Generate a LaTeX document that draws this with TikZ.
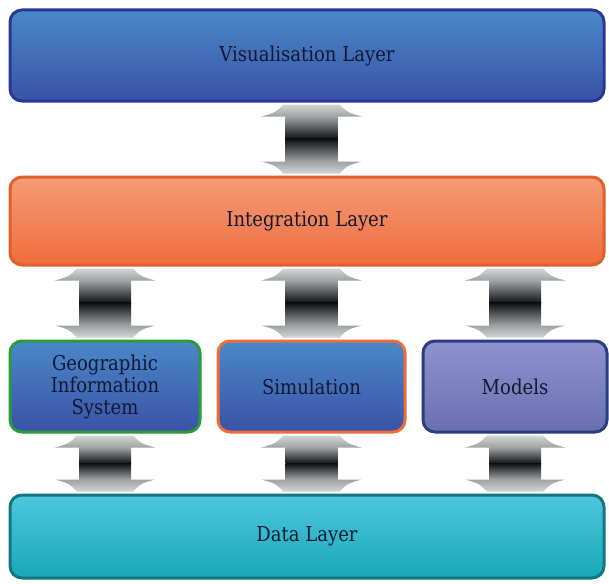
\documentclass[tikz,border=0pt]{standalone}
\usepackage{fontspec}
\setmainfont{DejaVu Serif}[FakeStretch=0.88]
\usetikzlibrary{calc}
\definecolor{txt}{HTML}{121A33}
\definecolor{blueT}{HTML}{4A88C8}
\definecolor{blueB}{HTML}{3A52A6}
\definecolor{blueE}{HTML}{26389A}
\definecolor{oraT}{HTML}{F59C76}
\definecolor{oraB}{HTML}{EE6C3C}
\definecolor{oraE}{HTML}{E0602C}
\definecolor{greE}{HTML}{2A9A3C}
\definecolor{purT}{HTML}{8E92CE}
\definecolor{purB}{HTML}{6A6FB0}
\definecolor{purE}{HTML}{2C3D7E}
\definecolor{cyaT}{HTML}{4EC6DE}
\definecolor{cyaB}{HTML}{18A8B8}
\definecolor{cyaE}{HTML}{127880}
\definecolor{headtip}{HTML}{D2D6D6}
\definecolor{headbase}{HTML}{9EA2A2}
\definecolor{shaftend}{HTML}{A4A6A6}
\definecolor{shaftmid}{HTML}{0C1014}
\newcommand\blockarrow[2]{%
  \coordinate (ua) at ($(#1)+(0,-2)$);
  \coordinate (la) at ($(#2)+(0,2)$);
  \coordinate (ma) at ($(ua)!0.5!(la)$);
  \shade[top color=headtip, bottom color=headbase]
    ($(ua)+(-28,0)$) -- ($(ua)+(28,0)$) .. controls ($(ua)+(36,-8)$) .. ($(ua)+(50,-12)$)
    -- ($(ua)+(-50,-12)$) .. controls ($(ua)+(-36,-8)$) .. cycle;
  \shade[top color=shaftend, bottom color=shaftmid]
    ($(ua)+(-26,-11.5)$) rectangle ($(ma)+(26,-0.3)$);
  \shade[top color=shaftmid, bottom color=shaftend]
    ($(ma)+(-26,0.3)$) rectangle ($(la)+(26,11.5)$);
  \shade[top color=headbase, bottom color=headtip]
    ($(la)+(-50,12)$) -- ($(la)+(50,12)$) .. controls ($(la)+(36,8)$) .. ($(la)+(28,0)$)
    -- ($(la)+(-28,0)$) .. controls ($(la)+(-36,8)$) .. cycle;
}
\begin{document}
\begin{tikzpicture}[x=1pt,y=1pt,
  layer/.style={rounded corners=12pt, line width=3pt, text=txt,
    font=\fontsize{20.5}{22}\selectfont, align=center, inner sep=0pt},
  bluebox/.style={layer, top color=blueT, bottom color=blueB},
]
\useasboundingbox[fill=white] (0,0) rectangle (609,-583);
\node[bluebox, draw=blueE, minimum width=594pt, minimum height=91pt] (vis) at (307,-55.5) {Visualisation Layer};
\node[layer, draw=oraE, top color=oraT, bottom color=oraB, minimum width=594pt, minimum height=88pt] (int) at (307,-221) {Integration Layer};
\node[bluebox, draw=greE, minimum width=190pt, minimum height=91pt] (gis) at (105,-386.5) {Geographic\\Information\\System};
\node[bluebox, draw=oraB, minimum width=187pt, minimum height=91pt] (sim) at (311.5,-386.5) {Simulation};
\node[layer, draw=purE, top color=purT, bottom color=purB, minimum width=184pt, minimum height=91pt] (mod) at (515,-386.5) {Models};
\node[layer, draw=cyaE, top color=cyaT, bottom color=cyaB, minimum width=594pt, minimum height=83pt] (data) at (307,-536.5) {Data Layer};
\blockarrow{sim.north |- vis.south}{sim.north |- int.north}
\blockarrow{gis.north |- int.south}{gis.north}
\blockarrow{sim.north |- int.south}{sim.north}
\blockarrow{mod.north |- int.south}{mod.north}
\blockarrow{gis.south}{gis.south |- data.north}
\blockarrow{sim.south}{sim.south |- data.north}
\blockarrow{mod.south}{mod.south |- data.north}
\end{tikzpicture}
\end{document}
